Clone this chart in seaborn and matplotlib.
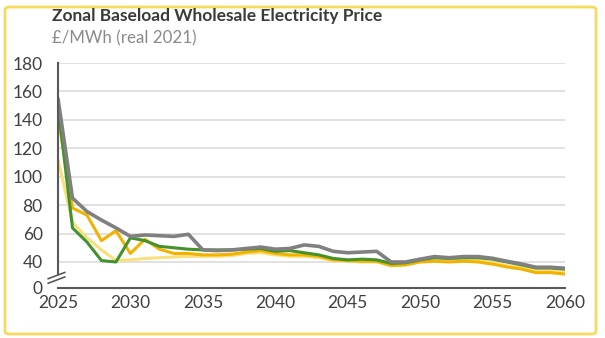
import matplotlib
matplotlib.use("Agg")
import matplotlib.pyplot as plt
import matplotlib.transforms as mtransforms
from matplotlib.patches import FancyBboxPatch
import numpy as np
import pandas as pd
import seaborn as sns

# ---- data (£/MWh, real 2021) ----
years = list(range(2025, 2061))

scenario_grey = [155, 85, 75.5, 69.5, 64, 58, 59, 58.5, 58, 59.5,
                 48.5, 48, 48.5, 49.5, 50.5, 49, 49.5, 52, 51, 47.5,
                 46.5, 47, 47.5, 40, 40, 42, 43.8, 43, 43.8, 43.8,
                 42.6, 40.5, 38.6, 36.3, 36.3, 35.6]
scenario_green = [150, 64, 54, 41, 40, 57, 55, 51, 50, 49,
                  48.5, 48.5, 48.5, 49, 49.5, 47.5, 48, 46.5, 45, 42.5,
                  41.5, 42, 41.5, 39, 39.5, 41.5, 43, 42.5, 43, 43,
                  42, 40, 38, 35.8, 35.8, 35]
scenario_orange = [143, 78, 73, 55, 62, 46, 56, 49, 46, 46,
                   45, 45, 45.5, 47, 48, 46, 45, 45, 44, 41.5,
                   41, 40.5, 40.5, 37.5, 38, 40, 40.5, 40, 40.5, 40,
                   38.5, 36.5, 35, 32.5, 32.5, 31.5]
scenario_pale = [112, 68, 57, 48.5, 41, 41.5, 42.5, 43, 43.5, 44,
                 44, 44, 44.5, 46, 46.5, 45, 44, 44, 43, 41,
                 40.5, 40, 40, 37.5, 38, 40.5, 41.5, 41, 41.5, 41,
                 39.5, 37.5, 36, 34, 34, 33.5]

series_names = ["Pale", "Orange", "Green", "Grey"]
series_values = [scenario_pale, scenario_orange, scenario_green, scenario_grey]
series_colors = ["#F8E07C", "#F2B200", "#44922C", "#808080"]
series_widths = [2.2, 2.2, 2.2, 2.6]

y_tick_values = [40, 60, 80, 100, 120, 140, 160, 180]
x_tick_values = [2025, 2030, 2035, 2040, 2045, 2050, 2055, 2060]

df = pd.concat(
    [pd.DataFrame({"year": years, "price": v, "scenario": n})
     for n, v in zip(series_names, series_values)],
    ignore_index=True,
)

sns.set_theme(style="white")
plt.rcParams["font.family"] = ["Lato", "DejaVu Sans"]

fig = plt.figure(figsize=(6.05, 3.38), dpi=100)
ax = fig.add_axes([58 / 605, 1 - 288 / 338, (565 - 58) / 605, (288 - 63) / 338])

# bottom of the axis is a broken scale: the "0" label sits just below 40
y_floor = 21.7

for name, color, lw in zip(series_names, series_colors, series_widths):
    sns.lineplot(data=df[df["scenario"] == name], x="year", y="price",
                 color=color, linewidth=lw, ax=ax, legend=False,
                 solid_joinstyle="round", solid_capstyle="round")

ax.set_xlim(2025, 2060)
ax.set_ylim(y_floor, 180)
ax.set_xticks(x_tick_values)
ax.set_xticklabels([str(v) for v in x_tick_values])
ax.set_yticks([y_floor] + y_tick_values)
ax.set_yticklabels(["0"] + [str(v) for v in y_tick_values])
ax.set_xlabel("")
ax.set_ylabel("")

label_color = "#404040"
ax.tick_params(axis="both", length=0, labelsize=12.5, labelcolor=label_color)
ax.tick_params(axis="y", pad=11)
ax.tick_params(axis="x", pad=5)

ax.yaxis.grid(True, color="#D9D9D9", linewidth=1.1)
ax.get_ygridlines()[0].set_visible(False)
ax.set_axisbelow(True)

spine_color = "#595959"
for s in ["top", "right"]:
    ax.spines[s].set_visible(False)
ax.spines["bottom"].set_color(spine_color)
ax.spines["bottom"].set_linewidth(1.5)
ax.spines["left"].set_color(spine_color)
ax.spines["left"].set_linewidth(1.5)
ax.spines["left"].set_bounds(31.5, 180)

# lower stub of the left axis plus the "//" break marks
trans = mtransforms.blended_transform_factory(ax.transAxes, ax.transData)
ax.plot([0, 0], [y_floor, 26.0], color=spine_color, lw=1.5,
        transform=ax.transData, clip_on=False)
px = 1 / 507
for dy in (0.0, 3.2):
    ax.plot([-10 * px, 7 * px], [25.0 + dy, 29.5 + dy], color=spine_color,
            lw=1.2, transform=trans, clip_on=False)

# titles
fig.text(52 / 605, 1 - 16 / 338, "Zonal Baseload Wholesale Electricity Price",
         fontsize=12.5, fontweight="bold", color="#3A3A3A", va="center", ha="left")
fig.text(52 / 605, 1 - 38 / 338, "£/MWh (real 2021)",
         fontsize=12.2, color="#8A8A8A", va="center", ha="left")

# rounded yellow frame around the whole graphic
frame = FancyBboxPatch((5 / 605, 4 / 338), 591 / 605, 327 / 338,
                       boxstyle="round,pad=0,rounding_size=0.008",
                       transform=fig.transFigure, fill=False,
                       edgecolor="#F6DA5C", linewidth=2.0)
fig.patches.append(frame)

fig.savefig("out.png", dpi=100)
